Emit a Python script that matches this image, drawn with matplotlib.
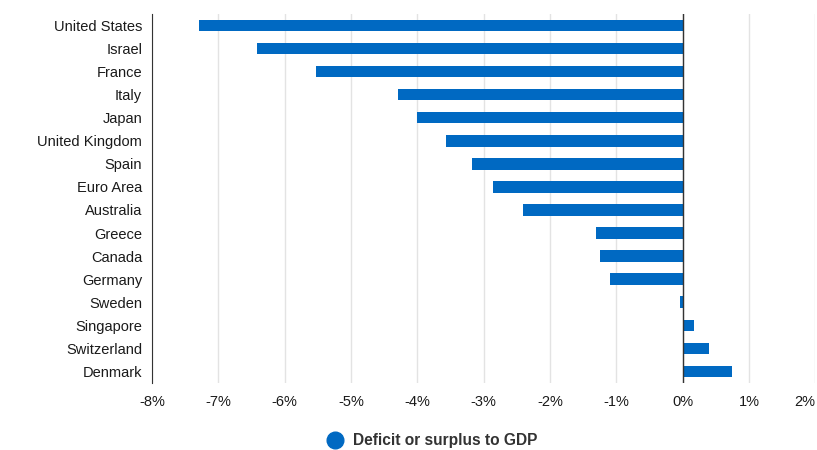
import matplotlib.pyplot as plt
from matplotlib.lines import Line2D

plt.rcParams["font.family"] = ["Liberation Sans", "DejaVu Sans"]

countries = [
    "United States", "Israel", "France", "Italy", "Japan", "United Kingdom",
    "Spain", "Euro Area", "Australia", "Greece", "Canada", "Germany",
    "Sweden", "Singapore", "Switzerland", "Denmark",
]
deficit = [
    -7.29, -6.42, -5.53, -4.29, -4.00, -3.57,
    -3.17, -2.86, -2.40, -1.31, -1.25, -1.09,
    -0.045, 0.17, 0.39, 0.74,
]
x_ticks = [-8, -7, -6, -5, -4, -3, -2, -1, 0, 1, 2]
x_labels = [f"{t}%" for t in x_ticks]

BAR_COLOR = "#0069c2"

fig = plt.figure(figsize=(8.17, 4.5), dpi=100)
ax = fig.add_axes([0.186, 0.149, 0.812, 0.82])

y = range(len(countries))
ax.barh(y, deficit, height=0.5, color=BAR_COLOR, zorder=3)

ax.set_ylim(len(countries) - 0.5, -0.5)
ax.set_yticks(list(y))
ax.set_yticklabels(countries, fontsize=10.5, color="#1a1a1a")

ax.set_xlim(-8, 2)
ax.set_xticks(x_ticks)
ax.set_xticklabels(x_labels, fontsize=10.5, color="#1a1a1a")
ax.get_xticklabels()[-1].set_horizontalalignment("right")
ax.tick_params(axis="both", length=0)
ax.tick_params(axis="x", pad=9)
ax.tick_params(axis="y", pad=7)

# gridlines and zero line
ax.grid(axis="x", color="#e3e3e3", linewidth=1, zorder=0)
ax.axvline(0, color="#333333", linewidth=1, zorder=4)

for side in ["top", "right", "bottom"]:
    ax.spines[side].set_visible(False)
ax.spines["left"].set_color("#333333")

# legend
handle = Line2D([], [], marker="o", linestyle="none", markersize=12,
                markerfacecolor=BAR_COLOR, markeredgecolor=BAR_COLOR)
fig.legend([handle], ["Deficit or surplus to GDP"], loc="center",
           bbox_to_anchor=(0.524, 0.02), frameon=False, handletextpad=0.15,
           prop={"weight": "bold", "size": 11.2}, labelcolor="#333333")

fig.savefig("out.png", dpi=100)
